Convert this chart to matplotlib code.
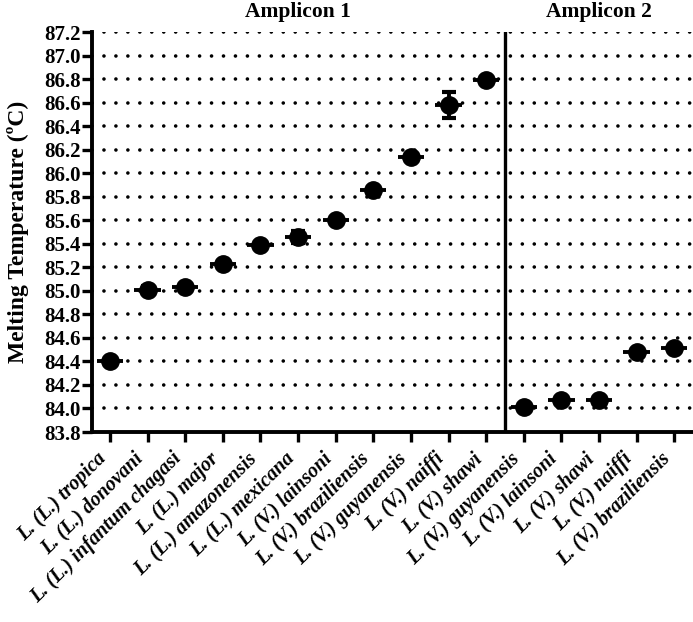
import matplotlib
matplotlib.use("Agg")
import matplotlib.pyplot as plt
import numpy as np

plt.rcParams['font.family'] = ['Liberation Serif', 'DejaVu Serif']

amp1_labels = ["L. (L.) tropica", "L. (L.) donovani", "L. (L.) infantum chagasi",
               "L. (L.) major", "L. (L.) amazonensis", "L. (L.) mexicana",
               "L. (V.) lainsoni", "L. (V.) braziliensis", "L. (V.) guyanensis",
               "L. (V.) naiffi", "L. (V.) shawi"]
amp1_values = [84.40, 85.01, 85.03, 85.23, 85.39, 85.46, 85.60, 85.86, 86.14, 86.58, 86.79]
amp1_errors = [0.01, 0.03, 0.02, 0.02, 0.02, 0.05, 0.01, 0.02, 0.02, 0.11, 0.01]

amp2_labels = ["L. (V.) guyanensis", "L. (V.) lainsoni", "L. (V.) shawi",
               "L. (V.) naiffi", "L. (V.) braziliensis"]
amp2_values = [84.01, 84.07, 84.07, 84.48, 84.51]
amp2_errors = [0.01, 0.01, 0.01, 0.01, 0.01]

yticks = np.round(np.arange(83.8, 87.21, 0.2), 1)

labels = amp1_labels + amp2_labels
values = amp1_values + amp2_values
errors = amp1_errors + amp2_errors
x = np.arange(len(labels))

fig = plt.figure(figsize=(6.93, 6.22), dpi=100)
ax = fig.add_axes([92/693, 1 - 432/622, 1 - 92/693, 400/622])

# dotted grid lines
for yv in yticks[1:]:
    ax.axhline(yv, color='black', lw=2.6, linestyle=(0, (0.01, 3.3)),
               dash_capstyle='round', zorder=1)

# mean lines
ax.hlines(values, x - 0.35, x + 0.35, color='black', lw=2.8, zorder=3)
ax.errorbar(x, values, yerr=errors, fmt='none', ecolor='black', elinewidth=2.8,
            capsize=5, capthick=3, zorder=3)
ax.plot(x, values, 'o', color='black', markersize=12.5, zorder=4)

ax.axvline(10.5, color='black', lw=2.4, zorder=2)

ax.set_xlim(-0.48, 15.5)
ax.set_ylim(83.8, 87.2)
ax.set_yticks(yticks)
ax.set_yticklabels([f"{v:.1f}" for v in yticks], fontsize=15, fontweight='bold')
ax.set_xticks(x)
ax.set_xticklabels(labels, rotation=45, ha='right', va='top', rotation_mode='default',
                   fontsize=14.5, fontweight='bold', fontstyle='italic')
ax.tick_params(axis='both', width=2.4, length=7, direction='out', pad=1)
ax.tick_params(axis='x', pad=5)
for s in ['top', 'right']:
    ax.spines[s].set_visible(False)
for s in ['left', 'bottom']:
    ax.spines[s].set_linewidth(2.8)

ax.set_ylabel("Melting Temperature (\u00baC)", fontsize=17, fontweight='bold')
ax.yaxis.set_label_coords(-0.104, 0.5)

title_y = 87.2 + 15 * 3.4 / 400
ax.text(5, title_y, "Amplicon 1", ha='center', va='baseline', fontsize=15.5,
        fontweight='bold', clip_on=False)
ax.text(13, title_y, "Amplicon 2", ha='center', va='baseline', fontsize=15.5,
        fontweight='bold', clip_on=False)

fig.savefig("out.png", dpi=100)
